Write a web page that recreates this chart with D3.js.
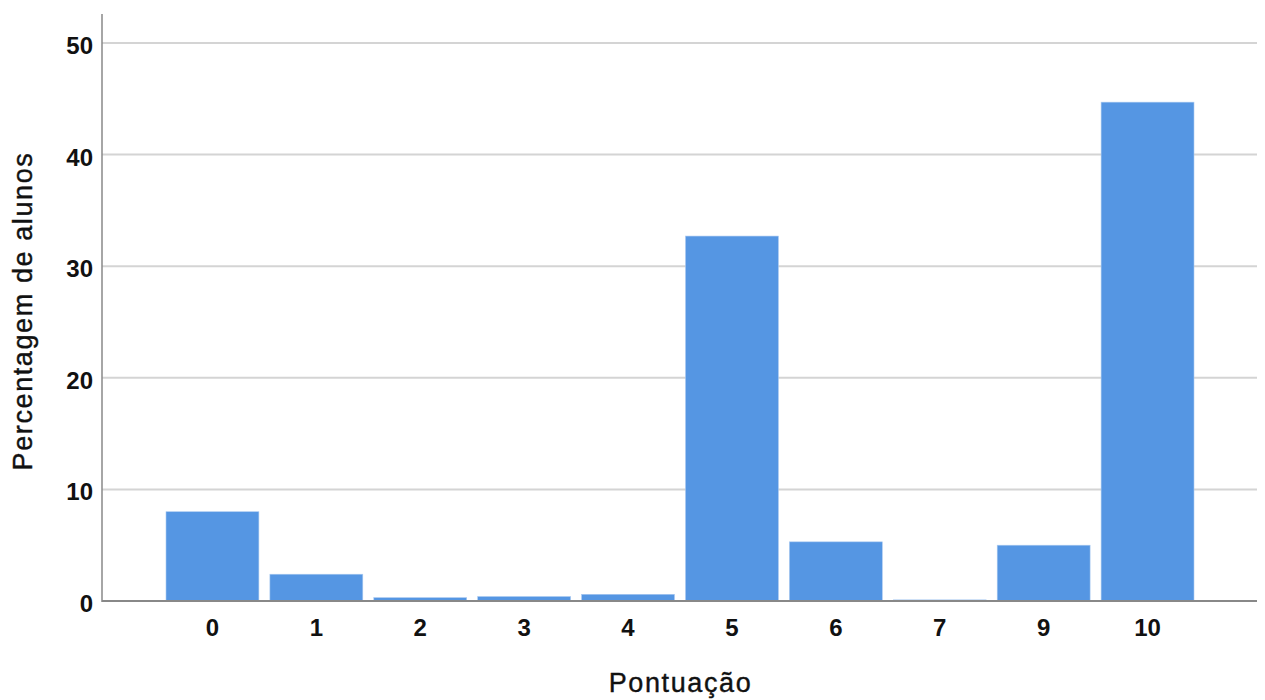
<!DOCTYPE html>
<html><head><meta charset="utf-8">
<script src="https://cdn.jsdelivr.net/npm/d3@7"></script>
<style>body{margin:0;background:#fff}svg{display:block}</style>
</head><body>
<script>
const categories = ["0","1","2","3","4","5","6","7","9","10"];
const values = [8.0, 2.4, 0.3, 0.4, 0.6, 32.7, 5.3, 0.1, 5.0, 44.7];
const yTicks = [0, 10, 20, 30, 40, 50];

(function () {
const W = 1265, H = 700;
const svg = d3.select("body").append("svg").attr("width", W).attr("height", H);
const mLeft = 102, mRight = 1257, mTop = 14, mBottom = 601;
const font = "Liberation Sans, Arial, sans-serif";
const y = d3.scaleLinear().domain([0, 50]).range([mBottom, 43]);
const x = d3.scaleBand().domain(categories).range([160.5, 1199.5]).paddingInner(0.106).paddingOuter(0.053);

// gridlines
svg.append("g").selectAll("line").data(yTicks.filter(d => d > 0)).join("line")
  .attr("x1", mLeft).attr("x2", mRight).attr("y1", d => y(d)).attr("y2", d => y(d))
  .attr("stroke", "#d4d4d4").attr("stroke-width", 2);

// bars
svg.append("g").selectAll("rect").data(values).join("rect")
  .attr("x", (d, i) => x(categories[i])).attr("width", x.bandwidth())
  .attr("y", d => y(d)).attr("height", d => mBottom - y(d))
  .attr("fill", "#5596e3").attr("stroke", "#a9c9f0").attr("stroke-width", 0.6);

// axes lines
svg.append("line").attr("x1", mLeft).attr("x2", mLeft).attr("y1", mTop).attr("y2", mBottom + 1)
  .attr("stroke", "#888").attr("stroke-width", 1.5);
svg.append("line").attr("x1", mLeft).attr("x2", mRight).attr("y1", mBottom).attr("y2", mBottom)
  .attr("stroke", "#888").attr("stroke-width", 2);

// y tick labels
svg.append("g").selectAll("text").data(yTicks).join("text")
  .attr("x", 93).attr("y", d => y(d) + 11)
  .attr("text-anchor", "end").attr("font-family", font)
  .attr("font-weight", "bold").attr("font-size", 24).attr("fill", "#111").text(d => d);

// x tick labels
svg.append("g").selectAll("text").data(categories).join("text")
  .attr("x", d => x(d) + x.bandwidth() / 2).attr("y", 636)
  .attr("text-anchor", "middle").attr("font-family", font)
  .attr("font-weight", "bold").attr("font-size", 24).attr("fill", "#111").text(d => d);

// axis titles
svg.append("text").attr("x", (mLeft + mRight) / 2 + 1).attr("y", 692)
  .attr("text-anchor", "middle").attr("font-family", font)
  .attr("font-size", 27).attr("letter-spacing", 1.6).attr("fill", "#111")
  .attr("stroke", "#111").attr("stroke-width", 0.4).text("Pontuação");
svg.append("text").attr("transform", "translate(32,311) rotate(-90)")
  .attr("text-anchor", "middle").attr("font-family", font)
  .attr("font-size", 27).attr("letter-spacing", 1.6).attr("fill", "#111")
  .attr("stroke", "#111").attr("stroke-width", 0.4).text("Percentagem de alunos");
})();
</script>
</body></html>
